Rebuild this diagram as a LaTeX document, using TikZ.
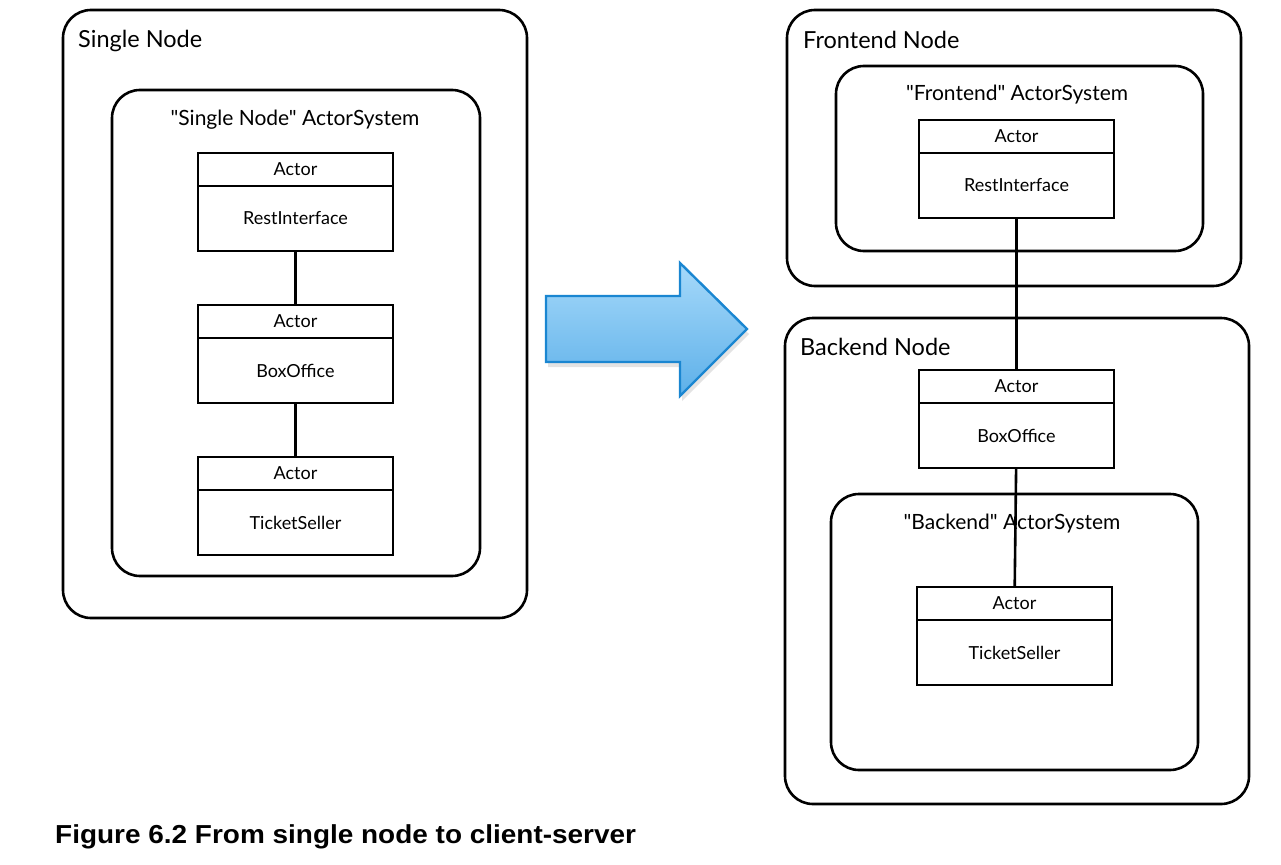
\documentclass[tikz,border=0pt]{standalone}
\usepackage{fontspec}
\setmainfont{Lato}[Ligatures=TeXOff]
\newfontfamily\capfont{Liberation Sans}
\usetikzlibrary{positioning,shadows}
\definecolor{arrowtop}{HTML}{A6D9FA}
\definecolor{arrowbot}{HTML}{5DB0E9}
\definecolor{arrowline}{HTML}{1A86D1}
\tikzstyle{hostbox} = [draw, line width=2.6pt, rounded corners=28pt, outer sep=0pt]
\tikzstyle{sysbox} = [draw, line width=2.6pt, rounded corners=28pt, outer sep=0pt]
\tikzstyle{actorhead} = [draw, line width=2.6pt, minimum width=195pt, minimum height=33pt, inner sep=0pt, outer sep=0pt, font=\fontsize{18}{21}\selectfont]
\tikzstyle{actorbody} = [draw, line width=2.6pt, minimum width=195pt, minimum height=65pt, inner sep=0pt, outer sep=0pt, font=\fontsize{18}{21}\selectfont]
\tikzset{hostlabel/.style={anchor=base west, inner sep=0pt, font=\fontsize{23.5}{27}\selectfont},
         syslabel/.style={anchor=base, inner sep=0pt, font=\fontsize{21}{25}\selectfont},
         link/.style={line width=2.6pt}
}

\begin{document}
\begin{tikzpicture}[x=1pt,y=-1pt]
\useasboundingbox (0,0) rectangle (1281,864);

% left: everything on one node
\node (single) [hostbox, minimum width=464pt, minimum height=608pt] at (295,314) {};
\node (singlelbl) [hostlabel] at (78,48) {Single Node};
\node (singlesys) [sysbox, minimum width=368pt, minimum height=486pt] at (296,333) {};
\node (singlesyslbl) [syslabel] at (295,125) {"Single Node" ActorSystem};

\node (resthd) [actorhead] at (295.5,169.5) {Actor};
\node (rest) [actorbody, below=0pt of resthd] {RestInterface};
\node (boxhd) [actorhead] at (295.5,321.5) {Actor};
\node (box) [actorbody, below=0pt of boxhd] {BoxOffice};
\node (tickethd) [actorhead] at (295.5,473.5) {Actor};
\node (ticket) [actorbody, below=0pt of tickethd] {TicketSeller};

\draw [link] (rest) -- (boxhd);
\draw [link] (box) -- (tickethd);

% the big arrow
\path [draw=arrowline, line width=2.4pt, line join=miter, top color=arrowtop, bottom color=arrowbot,
       drop shadow={opacity=0.22, shadow xshift=2pt, shadow yshift=-5pt}]
  (546,296) -- (680,296) -- (680,263) -- (747,329) -- (680,396) -- (680,362) -- (546,362) -- cycle;

% right: frontend and backend
\node (front) [hostbox, minimum width=454pt, minimum height=276pt] at (1014,148) {};
\node (frontlbl) [hostlabel] at (803,49) {Frontend Node};
\node (frontsys) [sysbox, minimum width=367pt, minimum height=185pt] at (1019.5,158.5) {};
\node (frontsyslbl) [syslabel] at (1017,101) {"Frontend" ActorSystem};

\node (back) [hostbox, minimum width=464pt, minimum height=486pt] at (1017,561) {};
\node (backlbl) [hostlabel] at (800,355) {Backend Node};
\node (backsys) [sysbox, minimum width=367pt, minimum height=276pt] at (1014.5,632) {};
\node (backsyslbl) [syslabel] at (1012,529) {"Backend" ActorSystem};

\node (resthd2) [actorhead, fill=white] at (1016.5,136.5) {Actor};
\node (rest2) [actorbody, below=0pt of resthd2] {RestInterface};
\node (boxhd2) [actorhead, fill=white] at (1016.5,386.5) {Actor};
\node (box2) [actorbody, below=0pt of boxhd2] {BoxOffice};
\node (tickethd2) [actorhead, fill=white] at (1014.5,603.5) {Actor};
\node (ticket2) [actorbody, below=0pt of tickethd2] {TicketSeller};

\draw [link] (rest2) -- (boxhd2);
\draw [link] (box2) -- (tickethd2);

\node (caption) [anchor=base west, inner sep=0pt, font=\capfont\bfseries\fontsize{26}{30}\selectfont] at (55,843) {\scalebox{1.075}[1]{Figure 6.2 From single node to client-server}};
\end{tikzpicture}
\end{document}
